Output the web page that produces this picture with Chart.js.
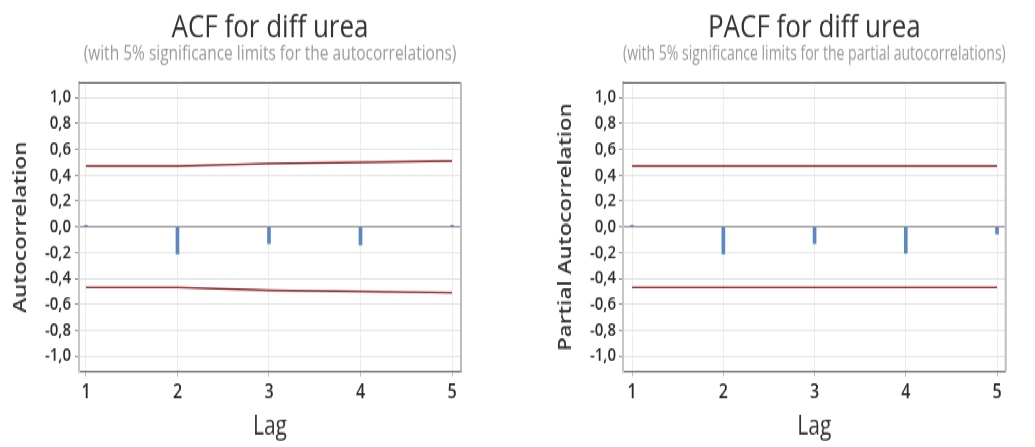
<!DOCTYPE html>
<html>
<head>
<meta charset="utf-8">
<title>ACF and PACF for diff urea</title>
<script src="https://cdn.jsdelivr.net/npm/chart.js@4.4.1/dist/chart.umd.min.js"></script>
<style>
  html, body { margin: 0; padding: 0; background: #ffffff; overflow: hidden; }
  /* both panels share one stage that is stretched vertically */
  #stage { position: absolute; left: 0; top: 0; width: 1035px; height: 358px;
           transform: scaleY(1.2486); transform-origin: 0 0; }
  .pane { position: absolute; top: 0; height: 358px; }
  #acfPane { left: 0; width: 517px; }
  #pacfPane { left: 517px; width: 518px; }
</style>
</head>
<body>
<div id="stage">
  <div class="pane" id="acfPane"><canvas id="acf"></canvas></div>
  <div class="pane" id="pacfPane"><canvas id="pacf"></canvas></div>
</div>
<script>
// lags and correlation estimates
const lags = [1, 2, 3, 4, 5];
const acfValues = [0.01, -0.21, -0.13, -0.14, 0.01];
const acfLimits = [0.47, 0.47, 0.49, 0.50, 0.51];
const pacfValues = [0.01, -0.21, -0.13, -0.205, -0.055];
const pacfLimits = [0.47, 0.47, 0.47, 0.47, 0.47];
const yTickValues = [-1, -0.8, -0.6, -0.4, -0.2, 0, 0.2, 0.4, 0.6, 0.8, 1];

const FONT = "'Open Sans', 'Noto Sans', sans-serif";
const BAR_BLUE = '#5b87c2';
const LIMIT_RED = '#8a2222';

// frame on the top and right edges of the plot area
const framePlugin = {
  id: 'frame',
  afterDraw(chart) {
    const { ctx, chartArea: a } = chart;
    ctx.save();
    ctx.strokeStyle = '#666666';
    ctx.lineWidth = 1.2;
    ctx.beginPath();
    ctx.moveTo(a.left, a.top);
    ctx.lineTo(a.right, a.top);
    ctx.stroke();
    ctx.strokeStyle = '#bdbdbd';
    ctx.lineWidth = 2;
    ctx.beginPath();
    ctx.moveTo(a.right, a.top);
    ctx.lineTo(a.right, a.bottom);
    ctx.stroke();
    ctx.restore();
  }
};

function commaLabel(v) {
  const n = Math.abs(v) < 1e-9 ? 0 : v;
  return n.toFixed(1).replace('.', ',');
}

function makeCorrChart(canvasId, cfg) {
  const points = (vals) => lags.map((l, i) => ({ x: l, y: vals[i] }));
  return new Chart(document.getElementById(canvasId), {
    data: {
      datasets: [
        {
          type: 'bar',
          data: points(cfg.values),
          backgroundColor: BAR_BLUE,
          barThickness: 3,
          order: 2
        },
        {
          type: 'line',
          data: points(cfg.limits),
          borderColor: LIMIT_RED,
          borderWidth: 1.5,
          pointRadius: 0,
          fill: false,
          tension: 0,
          order: 1
        },
        {
          type: 'line',
          data: points(cfg.limits.map(v => -v)),
          borderColor: LIMIT_RED,
          borderWidth: 1.5,
          pointRadius: 0,
          fill: false,
          tension: 0,
          order: 1
        }
      ]
    },
    options: {
      responsive: true,
      maintainAspectRatio: false,
      animation: false,
      layout: { padding: { left: 0, right: cfg.padRight, top: 0, bottom: 0 } },
      plugins: {
        legend: { display: false },
        tooltip: { enabled: false },
        title: {
          display: true,
          text: cfg.title,
          fullSize: false,
          color: '#333333',
          font: { family: FONT, size: 26, weight: 'normal', lineHeight: 1 },
          padding: { top: 9.4, bottom: 0 }
        },
        subtitle: {
          display: true,
          text: cfg.subtitle,
          fullSize: false,
          color: '#999999',
          font: { family: FONT, size: 15.5, weight: 'normal', lineHeight: 1 },
          padding: { top: 0, bottom: 15.4 }
        }
      },
      scales: {
        x: {
          type: 'linear',
          min: cfg.xMin,
          max: cfg.xMax,
          offset: false,
          afterBuildTicks: (s) => { s.ticks = lags.map(v => ({ value: v })); },
          afterFit: (s) => { s.height = 60.4; },
          ticks: {
            color: '#2a2a2a',
            padding: 3,
            font: { family: FONT, size: 16, weight: '600' },
            callback: (v) => String(v)
          },
          grid: { offset: false, color: '#ececf2', tickColor: '#bbbbbb', tickLength: 4 },
          border: { color: '#666666', width: 1.2 },
          title: {
            display: true,
            text: 'Lag',
            color: '#333333',
            font: { family: FONT, size: 21, lineHeight: 1 },
            padding: { top: 0, bottom: 5 }
          }
        },
        y: {
          type: 'linear',
          min: -1.12,
          max: 1.115,
          afterBuildTicks: (s) => { s.ticks = yTickValues.map(v => ({ value: v })); },
          afterFit: (s) => { s.width = cfg.yAxisWidth; },
          ticks: {
            color: '#2a2a2a',
            padding: cfg.tickPad,
            font: { family: FONT, size: 15, weight: '600' },
            callback: (v) => commaLabel(v)
          },
          grid: {
            color: (c) => (c.tick && Math.abs(c.tick.value) < 1e-9 ? '#888888' : '#e2e2e2'),
            lineWidth: (c) => (c.tick && Math.abs(c.tick.value) < 1e-9 ? 1.2 : 1),
            tickColor: '#888888',
            tickLength: 4
          },
          border: { color: '#c6c6c6', width: 2 },
          title: {
            display: true,
            text: cfg.yTitle,
            color: '#333333',
            font: { family: FONT, size: 18, weight: '600' },
            padding: { top: cfg.yTitlePad, bottom: 0 }
          }
        }
      }
    },
    plugins: [framePlugin]
  });
}

makeCorrChart('acf', {
  title: 'ACF for diff urea',
  subtitle: '(with 5% significance limits for the autocorrelations)',
  yTitle: 'Autocorrelation',
  values: acfValues,
  limits: acfLimits,
  xMin: 0.924,
  xMax: 5.098,
  yAxisWidth: 79,
  padRight: 56,
  tickPad: 4,
  yTitlePad: 10.2
});

makeCorrChart('pacf', {
  title: 'PACF for diff urea',
  subtitle: '(with 5% significance limits for the partial autocorrelations)',
  yTitle: 'Partial Autocorrelation',
  values: pacfValues,
  limits: pacfLimits,
  xMin: 0.90,
  xMax: 5.095,
  yAxisWidth: 106,
  padRight: 29.3,
  tickPad: 3,
  yTitlePad: 37.7
});
</script>
</body>
</html>
